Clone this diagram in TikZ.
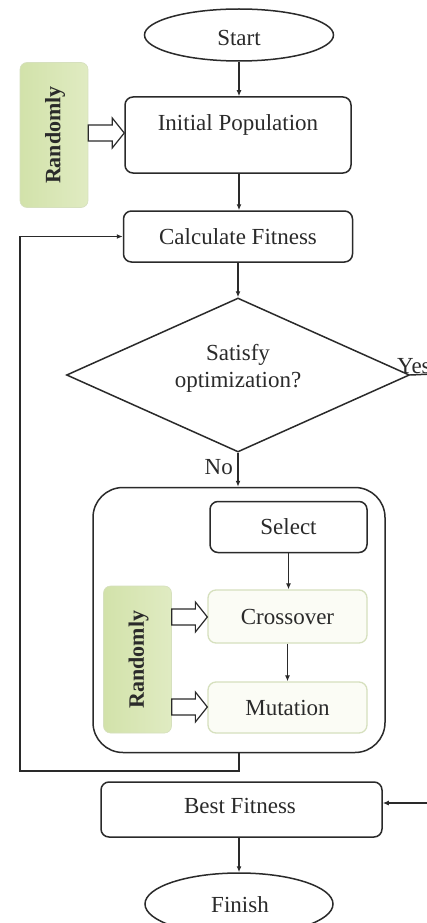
\documentclass[tikz,border=0pt]{standalone}
\usepackage{fontspec}
\setmainfont{Liberation Serif}
\usetikzlibrary{shapes.geometric,calc,arrows.meta}

\definecolor{ink}{HTML}{2A2A2A}
\definecolor{rndL}{HTML}{D2E2AA}
\definecolor{rndM}{HTML}{F0F6E2}
\definecolor{rndR}{HTML}{E0EBC2}
\definecolor{softedge}{HTML}{D6E0BE}
\definecolor{softfill}{HTML}{FBFCF5}

\tikzset{
  txt/.style={font=\fontsize{23}{27}\selectfont, text=ink, inner sep=0pt},
  boldtxt/.style={txt, font=\fontsize{22}{26}\selectfont\bfseries},
  procbox/.style={draw=ink, line width=1.5pt, rounded corners=8pt, fill=white, inner sep=0pt},
  softbox/.style={draw=softedge, line width=1.3pt, rounded corners=8pt, fill=softfill, inner sep=0pt},
  terminal/.style={ellipse, draw=ink, line width=1.5pt, fill=white, inner sep=0pt},
  decision/.style={diamond, draw=ink, line width=1.5pt, fill=white, inner sep=0pt},
  groupbox/.style={draw=ink, line width=1.5pt, rounded corners=30pt, inner sep=0pt},
  randbox/.style={rounded corners=7pt, draw=softedge, line width=0.6pt,
    left color=rndL, middle color=rndM, right color=rndR, inner sep=0pt},
  conn/.style={draw=ink, line width=1.5pt},
  arr/.style={conn, -{Latex[length=6pt,width=5pt]}},
  hollow/.style={draw=ink, line width=1.2pt, fill=white, line join=miter},
}

% block arrow from the east side of #1 to the west side of #2, at height #3
\newcommand{\blockarrow}[3]{%
  \draw[hollow] let \p1=(#1.east), \p2=(#2.west), \p3=(0,#3) in
    (\x1,\y3+8pt) -- (\x2-12pt,\y3+8pt) -- (\x2-12pt,\y3+15pt) -- (\x2,\y3)
    -- (\x2-12pt,\y3-15pt) -- (\x2-12pt,\y3-8pt) -- (\x1,\y3-8pt) -- cycle;}

\begin{document}
\begin{tikzpicture}[x=1pt,y=-1pt]
\useasboundingbox (0,0) rectangle (427,923);
\clip (0,0) rectangle (427,923);
\fill[white] (0,0) rectangle (427,923);

% main column
\node[terminal, minimum width=189, minimum height=52] (start) at (239,35) {};
\node[txt] (starttxt) at (239,38) {Start};

\node[procbox, minimum width=226, minimum height=76] (ip) at (238,135) {};
\node[txt] (iptxt) at (238,125) {Initial Population};

\node[randbox, minimum width=68, minimum height=145] (rnd1) at (54,135) {};
\node[boldtxt, rotate=90] (rnd1txt) at (55,135) {Randomly};

\node[procbox, minimum width=229, minimum height=51] (cf) at (238,236.5) {};
\node[txt] (cftxt) at (238,237) {Calculate Fitness};

\node[decision, minimum width=343, minimum height=154] (dia) at (238,375) {};
\node[txt] (dia1) at (238,355) {Satisfy};
\node[txt] (dia2) at (238,382) {optimization?};
\node[txt, anchor=base west] (yes) at (397,373) {Yes};

\node[txt, anchor=east] (no) at (233,467) {No};

% inner loop group
\node[groupbox, minimum width=292, minimum height=265] (grp) at (239,620) {};
\node[procbox, minimum width=157, minimum height=51] (sel) at (288.5,527) {};
\node[txt] (seltxt) at (288.5,527) {Select};
\node[softbox, minimum width=159, minimum height=53] (cr) at (287.5,616.5) {};
\node[txt] (crtxt) at (287.5,617) {Crossover};
\node[softbox, minimum width=159, minimum height=51] (mu) at (287.5,707.5) {};
\node[txt] (mutxt) at (287.5,708) {Mutation};
\node[randbox, minimum width=68, minimum height=147] (rnd2) at (137.5,659.5) {};
\node[boldtxt, rotate=90] (rnd2txt) at (138.5,659.5) {Randomly};

\node[procbox, minimum width=281, minimum height=55] (bf) at (241.5,809.5) {};
\node[txt] (bftxt) at (240,806) {Best Fitness};

\node[terminal, minimum width=188, minimum height=62] (fin) at (239,904) {};
\node[txt] (fintxt) at (240,905) {Finish};

% connectors
\draw[arr] (start.south) -- (start.south |- ip.north);
\draw[arr] (ip.south -| start.south) -- (start.south |- cf.north);
\draw[arr] (cf.south) -- (dia.north);
\draw[arr] (dia.south) -- (dia.south |- grp.north);
\draw[arr] (sel.south) -- (sel.south |- cr.north);
\draw[arr] (cr.south) -- (mu.north);
\draw[arr] (bf.south -| fin.north) -- (fin.north);

% loop back to fitness evaluation
\coordinate (loopL) at (20,771);
\coordinate (loopT) at (20,236.5);
\draw[arr] (grp.south) |- (loopL) -- (loopT) -- (cf.west);

% exit branch to the best fitness
\coordinate (yesR) at (432,374);
\draw[conn] (dia.east) -- (yesR);
\coordinate (bfR) at (432,803);
\draw[arr] (bfR) -- (bfR -| bf.east);

% random inputs
\blockarrow{rnd1}{ip}{133}
\blockarrow{rnd2}{cr}{617}
\blockarrow{rnd2}{mu}{707}
\end{tikzpicture}
\end{document}
